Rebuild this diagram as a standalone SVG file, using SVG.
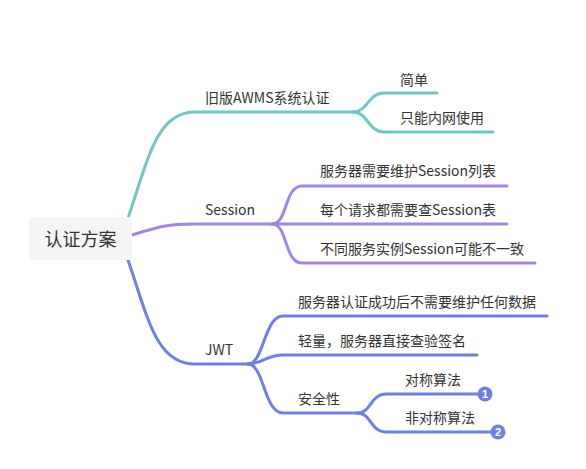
<svg xmlns="http://www.w3.org/2000/svg" width="586" height="469" viewBox="0 0 586 469">
<style>
.t{font-family:"Noto Sans CJK SC","Microsoft YaHei",sans-serif;font-size:14px;fill:#333}
.r{font-family:"Noto Sans CJK SC",sans-serif;font-size:18px;fill:#333}
.c{fill:none;stroke-width:3;stroke-linecap:round}
.teal{stroke:#72c6c3}
.pur{stroke:#a385e0}
.blu{stroke:#6f80dd}
.b{font-family:"Liberation Sans",sans-serif;font-size:11px;font-weight:bold;fill:#fff}
</style>
<rect width="586" height="469" fill="#fff"/>
<g id="connectors">
<path class="c teal" d="M128,218 C148,160 156,112 195,112 L353,112"/>
<path class="c teal" d="M353,112 C368,112 368,93 384,93 L437,93"/>
<path class="c teal" d="M353,112 C368,112 368,132 384,132 L493,132"/>
<path class="c pur" d="M132,235 C158,227 166,224 195,224 L272,224"/>
<path class="c pur" d="M272,224 C288,224 284,186 302,186 L507,186"/>
<path class="c pur" d="M272,224 L507,224"/>
<path class="c pur" d="M272,224 C288,224 284,263 302,263 L535,263"/>
<path class="c blu" d="M128,260 C148,318 156,364 195,364 L248,364"/>
<path class="c blu" d="M248,364 C264,364 264,316 283,316 L547,316"/>
<path class="c blu" d="M248,364 C262,364 266,355 283,355 L477,355"/>
<path class="c blu" d="M248,364 C264,364 264,413 283,413 L357,413"/>
<path class="c blu" d="M357,413 C372,413 370,394 386,394 L485,394"/>
<path class="c blu" d="M357,413 C372,413 370,432 386,432 L498,432"/>
</g>
<g id="root">
<rect x="29" y="217" width="103" height="43" rx="4" fill="#f5f5f5"/>
<text class="r" x="80.5" y="246" text-anchor="middle">认证方案</text>
</g>
<g id="n-awms"><text class="t" x="205" y="103">旧版AWMS系统认证</text></g>
<g id="n-simple"><text class="t" x="400" y="85">简单</text></g>
<g id="n-intranet"><text class="t" x="400" y="123">只能内网使用</text></g>
<g id="n-session"><text class="t" x="205" y="215">Session</text></g>
<g id="n-s1"><text class="t" x="320" y="176">服务器需要维护Session列表</text></g>
<g id="n-s2"><text class="t" x="320" y="215">每个请求都需要查Session表</text></g>
<g id="n-s3"><text class="t" x="320" y="254">不同服务实例Session可能不一致</text></g>
<g id="n-jwt"><text class="t" x="205" y="355">JWT</text></g>
<g id="n-j1"><text class="t" x="298" y="307">服务器认证成功后不需要维护任何数据</text></g>
<g id="n-j2"><text class="t" x="298" y="346">轻量，服务器直接查验签名</text></g>
<g id="n-sec"><text class="t" x="298" y="404">安全性</text></g>
<g id="n-sym">
<text class="t" x="405" y="385">对称算法</text>
<circle cx="485" cy="394" r="7.5" fill="#6f80dd"/>
<text class="b" x="485" y="398" text-anchor="middle">1</text>
</g>
<g id="n-asym">
<text class="t" x="405" y="423">非对称算法</text>
<circle cx="498" cy="432" r="7.5" fill="#6f80dd"/>
<text class="b" x="498" y="436" text-anchor="middle">2</text>
</g>
</svg>
